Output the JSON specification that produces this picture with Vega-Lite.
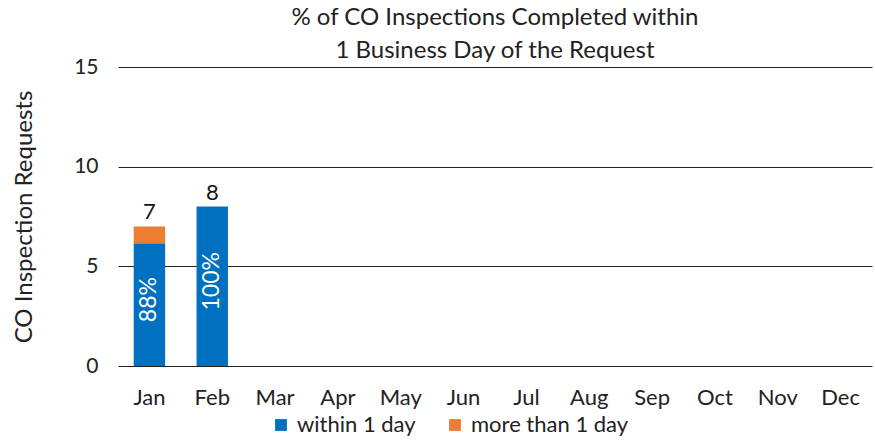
{
  "$schema": "https://vega.github.io/schema/vega-lite/v6.json",
  "width": 754,
  "height": 299,
  "autosize": {"type": "none"},
  "padding": {"left": 118, "top": 67, "right": 3, "bottom": 75},
  "background": "white",
  "config": {
    "font": "Lato",
    "view": {"stroke": null}
  },
  "title": {
    "text": ["% of CO Inspections Completed within", "1 Business Day of the Request"],
    "fontSize": 24,
    "fontWeight": "normal",
    "color": "#222",
    "anchor": "middle",
    "offset": -7,
    "lineHeight": 33
  },
  "data": {
    "values": [
      {"month": "Jan", "category": "within 1 day", "value": 6.16, "pct": "88%"},
      {"month": "Jan", "category": "more than 1 day", "value": 0.84, "pct": ""},
      {"month": "Feb", "category": "within 1 day", "value": 8, "pct": "100%"},
      {"month": "Feb", "category": "more than 1 day", "value": 0, "pct": ""}
    ]
  },
  "layer": [
    {
      "layer": [
        {
          "mark": {"type": "bar"},
          "encoding": {
            "x": {
              "field": "month",
              "type": "nominal",
              "sort": null,
              "scale": {
                "domain": ["Jan", "Feb", "Mar", "Apr", "May", "Jun", "Jul", "Aug", "Sep", "Oct", "Nov", "Dec"],
                "paddingInner": 0.5,
                "paddingOuter": 0.25
              },
              "axis": {
                "title": null,
                "labelAngle": 0,
                "labelFontSize": 22,
                "labelColor": "#222",
                "labelPadding": 21,
                "domain": false,
                "ticks": false
              }
            },
            "y": {
              "field": "value",
              "type": "quantitative",
              "stack": "zero",
              "scale": {"domain": [0, 15], "nice": false},
              "axis": {
                "values": [0, 5, 10, 15],
                "title": "CO Inspection Requests",
                "titleFontSize": 24,
                "titleFontWeight": "normal",
                "titleColor": "#222",
                "titlePadding": 37,
                "labelFontSize": 21,
                "labelColor": "#222",
                "labelPadding": 20,
                "domain": false,
                "ticks": false,
                "gridColor": "#222",
                "gridWidth": 1.2,
                "gridOpacity": 1
              }
            },
            "color": {
              "field": "category",
              "type": "nominal",
              "scale": {"domain": ["within 1 day", "more than 1 day"], "range": ["#0070C0", "#ED7D31"]},
              "legend": {
                "title": null,
                "orient": "none",
                "direction": "horizontal",
                "legendX": 152,
                "legendY": 347,
                "symbolType": "square",
                "symbolSize": 140,
                "symbolStrokeWidth": 0,
                "symbolOpacity": 1,
                "labelFontSize": 22,
                "labelColor": "#222",
                "labelOffset": 5,
                "columnPadding": 28
              }
            },
            "order": {"field": "category", "sort": "descending"}
          }
        },
        {
          "transform": [
            {"aggregate": [{"op": "sum", "field": "value", "as": "total"}], "groupby": ["month"]}
          ],
          "mark": {"type": "text", "baseline": "bottom", "dy": -2, "fontSize": 22, "color": "#111"},
          "encoding": {
            "x": {"field": "month", "type": "nominal", "sort": null},
            "y": {"field": "total", "type": "quantitative", "scale": {"domain": [0, 15], "nice": false}},
            "text": {"field": "total", "type": "quantitative", "format": ".0f"}
          }
        }
      ]
    },
    {
      "transform": [{"filter": "datum.category === 'within 1 day'"}],
      "mark": {"type": "text", "angle": 270, "align": "center", "baseline": "middle", "dx": 5, "fontSize": 23, "color": "white"},
      "encoding": {
        "x": {"field": "month", "type": "nominal", "sort": null},
        "y": {"field": "value", "type": "quantitative", "scale": {"domain": [0, 30], "nice": false}, "axis": null},
        "text": {"field": "pct", "type": "nominal"}
      }
    }
  ],
  "resolve": {"scale": {"y": "independent"}}
}
